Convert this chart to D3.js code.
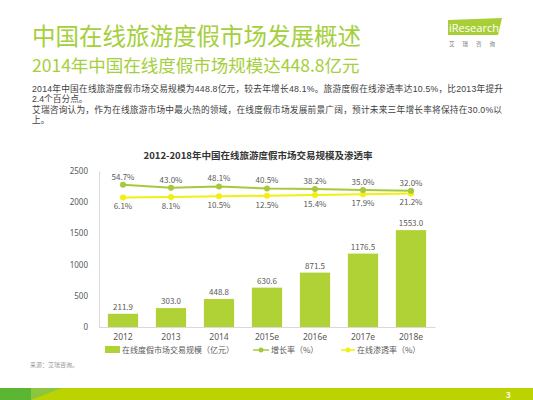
<!DOCTYPE html>
<html><head><meta charset="utf-8">
<script src="https://cdn.jsdelivr.net/npm/d3@7/dist/d3.min.js"></script>
<style>
html,body{margin:0;padding:0;background:#fff;}
svg{display:block;font-family:"Noto Sans CJK SC","Noto Sans",sans-serif;}
</style></head>
<body><svg id="c" width="533" height="400"></svg>
<script>
const categories = ["2012","2013","2014","2015e","2016e","2017e","2018e"];
const marketSize = [211.9, 303.0, 448.8, 630.6, 871.5, 1176.5, 1553.0];
const growthRate = [54.7, 43.0, 48.1, 40.5, 38.2, 35.0, 32.0];
const penetration = [6.1, 8.1, 10.5, 12.5, 15.4, 17.9, 21.2];
const yTicks = [0, 500, 1000, 1500, 2000, 2500];
const legendLabels = ["在线度假市场交易规模（亿元）", "增长率（%）", "在线渗透率（%）"];

const svg = d3.select("#c");
const green = "#a5cf3c", barC = "#b0d236", lineG = "#a7c83c", lineY = "#f2ef12", txt = "#595959";

// header
svg.append("text").attr("x",32).attr("y",45).attr("font-size",23.5).attr("fill",green).text("中国在线旅游度假市场发展概述");
svg.append("text").attr("x",32).attr("y",72).attr("font-size",17.5).attr("fill",green).text("2014年中国在线度假市场规模达448.8亿元");
const body = [
 ["2014年中国在线旅游度假市场交易规模为448.8亿元，较去年增长48.1%。旅游度假在线渗透率达10.5%，比2013年提升",91.5,471],
 ["2.4个百分点。",101.5,null],
 ["艾瑞咨询认为，作为在线旅游市场中最火热的领域，在线度假市场发展前景广阔，预计未来三年增长率将保持在30.0%以",113,470],
 ["上。",123,null]];
body.forEach(b=>{
  const t = svg.append("text").attr("x",32).attr("y",b[1]).attr("font-size",8.7).attr("fill","#404040")
    .attr("font-family","'Liberation Sans','Noto Sans CJK SC',sans-serif").text(b[0]);
  if (b[2]) t.attr("textLength",b[2]).attr("lengthAdjust","spacing");
});

// logo
svg.append("polygon").attr("points","448,20 502,18 498,35 448,35").attr("fill","#a8cf38");
svg.append("text").attr("x",449).attr("y",31.5).attr("font-size",11.5).attr("fill","#fff").attr("font-family","Open Sans, sans-serif")
  .attr("textLength",50).attr("lengthAdjust","spacingAndGlyphs").text("iResearch");
svg.append("text").attr("x",449).attr("y",46).attr("font-size",5.5).attr("fill","#777").attr("letter-spacing",8).text("艾瑞咨询");

// chart
svg.append("text").attr("x",258).attr("y",159).attr("text-anchor","middle").attr("font-size",9.5).attr("font-weight","bold").attr("fill","#333").text("2012-2018年中国在线旅游度假市场交易规模及渗透率");

const x = d3.scaleBand().domain(categories).range([99,435]).paddingInner(0.37).paddingOuter(0.185);
const y = d3.scaleLinear().domain([0,2500]).range([327,171]);
const y2 = d3.scaleLinear().domain([0,100]).range([199,173]);

const yAxis = svg.append("g").attr("transform","translate(99,0)").call(d3.axisLeft(y).tickValues(yTicks).tickFormat(d3.format("d")).tickSize(0).tickPadding(11));
yAxis.select(".domain").attr("stroke","#d9d9d9");
yAxis.selectAll("text").attr("font-size",8).attr("fill",txt).attr("font-family","Noto Sans, sans-serif");

svg.append("g").selectAll("rect").data(marketSize).join("rect")
  .attr("x",(d,i)=>x(categories[i])).attr("width",x.bandwidth())
  .attr("y",d=>y(d)).attr("height",d=>y(0)-y(d)).attr("fill",barC);
svg.append("g").selectAll("text").data(marketSize).join("text")
  .attr("x",(d,i)=>x(categories[i])+x.bandwidth()/2).attr("y",d=>y(d)-4)
  .attr("text-anchor","middle").attr("font-size",8).attr("fill",txt).text(d=>d.toFixed(1));

const xAxis = svg.append("g").attr("transform","translate(0,327)").call(d3.axisBottom(x).tickSize(0).tickPadding(7));
xAxis.select(".domain").attr("stroke","#d9d9d9");
xAxis.selectAll("text").attr("font-size",8.5).attr("fill",txt).attr("font-family","Noto Sans, sans-serif");

const cx = i=>x(categories[i])+x.bandwidth()/2;
const line = d3.line().x((d,i)=>cx(i)).y(d=>y2(d));
[[penetration,lineY,1],[growthRate,lineG,-1]].forEach(([data,col,dir])=>{
  svg.append("path").datum(data).attr("d",line).attr("fill","none").attr("stroke",col).attr("stroke-width",2);
  svg.append("g").selectAll("circle").data(data).join("circle")
    .attr("cx",(d,i)=>cx(i)).attr("cy",d=>y2(d)).attr("r",3).attr("fill",col);
  svg.append("g").selectAll("text").data(data).join("text")
    .attr("x",(d,i)=>cx(i)).attr("y",d=>y2(d)+(dir<0?-5:12))
    .attr("text-anchor","middle").attr("font-size",8).attr("fill",txt).text(d=>d.toFixed(1)+"%");
});

// legend
const ly = 350;
svg.append("rect").attr("x",105).attr("y",ly-4).attr("width",15).attr("height",7).attr("fill",barC);
svg.append("text").attr("x",122).attr("y",ly+3).attr("font-size",8).attr("fill",txt).text(legendLabels[0]);
svg.append("line").attr("x1",253).attr("x2",269).attr("y1",ly).attr("y2",ly).attr("stroke",lineG).attr("stroke-width",1.5);
svg.append("circle").attr("cx",261).attr("cy",ly).attr("r",2.5).attr("fill",lineG);
svg.append("text").attr("x",271).attr("y",ly+3).attr("font-size",8).attr("fill",txt).text(legendLabels[1]);
svg.append("line").attr("x1",341).attr("x2",355).attr("y1",ly).attr("y2",ly).attr("stroke",lineY).attr("stroke-width",1.5);
svg.append("circle").attr("cx",348).attr("cy",ly).attr("r",2.5).attr("fill",lineY);
svg.append("text").attr("x",357).attr("y",ly+3).attr("font-size",8).attr("fill",txt).text(legendLabels[2]);

svg.append("text").attr("x",30).attr("y",367).attr("font-size",6).attr("fill","#999").text("来源：艾瑞咨询。");

// footer band
svg.append("rect").attr("x",0).attr("y",388).attr("width",533).attr("height",12).attr("fill","#bcd302");
svg.append("rect").attr("x",0).attr("y",388).attr("width",31).attr("height",12).attr("fill","#5cb533");
svg.append("polygon").attr("points","31,388 62,388 31,400").attr("fill","#8cc63f");
svg.append("text").attr("x",506).attr("y",397.5).attr("font-size",8).attr("font-weight","bold").attr("fill","#fff").text("3");
</script></body></html>
